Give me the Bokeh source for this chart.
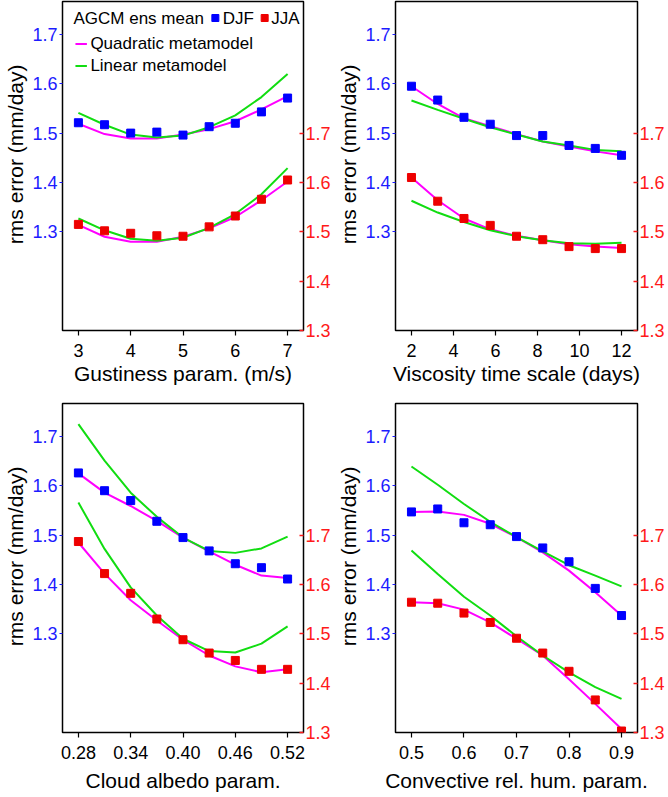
from bokeh.plotting import figure
from bokeh.models import Range1d, LinearAxis, FixedTicker, Label, NumeralTickFormatter
from bokeh.layouts import column, row
from bokeh.embed import file_html
from bokeh.resources import INLINE

FONT = "Liberation Sans"
BLUE = "#0000ff"
RED = "#ee0000"
MAGENTA = "#ff00ff"
GREEN = "#11dd11"
BLUE_TXT = "#1c1cff"
RED_TXT = "#ff1a1a"

# ---------------- data ----------------
y_ticks = [1.3, 1.4, 1.5, 1.6, 1.7]

gust_x = [3, 3.5, 4, 4.5, 5, 5.5, 6, 6.5, 7]
gust_djf = [1.521, 1.517, 1.500, 1.502, 1.496, 1.513, 1.520, 1.543, 1.571]
gust_djf_quad = [1.519, 1.498, 1.489, 1.489, 1.497, 1.508, 1.524, 1.548, 1.575]
gust_djf_lin = [1.541, 1.517, 1.497, 1.491, 1.495, 1.512, 1.536, 1.573, 1.620]
gust_jja = [1.515, 1.502, 1.497, 1.492, 1.491, 1.510, 1.532, 1.566, 1.605]
gust_jja_quad = [1.514, 1.490, 1.480, 1.480, 1.490, 1.507, 1.530, 1.564, 1.602]
gust_jja_lin = [1.527, 1.503, 1.486, 1.482, 1.488, 1.508, 1.536, 1.576, 1.629]
gust_ticks = [3, 4, 5, 6, 7]

visc_x = [2, 3.25, 4.5, 5.75, 7, 8.25, 9.5, 10.75, 12]
visc_djf = [1.595, 1.567, 1.532, 1.518, 1.495, 1.495, 1.475, 1.469, 1.455]
visc_djf_quad = [1.595, 1.559, 1.530, 1.514, 1.498, 1.483, 1.473, 1.463, 1.455]
visc_djf_lin = [1.566, 1.547, 1.529, 1.512, 1.497, 1.483, 1.475, 1.466, 1.463]
visc_jja = [1.610, 1.562, 1.527, 1.513, 1.491, 1.484, 1.470, 1.466, 1.466]
visc_jja_quad = [1.610, 1.564, 1.527, 1.505, 1.492, 1.483, 1.475, 1.470, 1.467]
visc_jja_lin = [1.563, 1.539, 1.520, 1.503, 1.491, 1.483, 1.477, 1.476, 1.478]
visc_ticks = [2, 4, 6, 8, 10, 12]

cloud_x = [0.28, 0.31, 0.34, 0.37, 0.40, 0.43, 0.46, 0.49, 0.52]
cloud_djf = [1.626, 1.590, 1.570, 1.528, 1.495, 1.468, 1.442, 1.434, 1.411]
cloud_djf_quad = [1.625, 1.586, 1.559, 1.529, 1.495, 1.467, 1.440, 1.418, 1.413]
cloud_djf_lin = [1.725, 1.651, 1.586, 1.537, 1.495, 1.468, 1.464, 1.473, 1.497]
cloud_jja = [1.687, 1.622, 1.582, 1.530, 1.488, 1.461, 1.446, 1.428, 1.428]
cloud_jja_quad = [1.685, 1.622, 1.568, 1.527, 1.488, 1.456, 1.434, 1.422, 1.428]
cloud_jja_lin = [1.766, 1.672, 1.594, 1.537, 1.490, 1.465, 1.462, 1.480, 1.515]
cloud_ticks = [0.28, 0.34, 0.40, 0.46, 0.52]

conv_x = [0.5, 0.55, 0.6, 0.65, 0.7, 0.75, 0.8, 0.85, 0.9]
conv_djf = [1.547, 1.553, 1.525, 1.521, 1.497, 1.474, 1.446, 1.392, 1.337]
conv_djf_quad = [1.547, 1.548, 1.541, 1.523, 1.496, 1.465, 1.428, 1.384, 1.337]
conv_djf_lin = [1.639, 1.602, 1.563, 1.527, 1.496, 1.467, 1.439, 1.418, 1.396]
conv_jja = [1.564, 1.562, 1.542, 1.523, 1.491, 1.461, 1.424, 1.366, 1.303]
conv_jja_quad = [1.564, 1.562, 1.549, 1.523, 1.490, 1.456, 1.408, 1.358, 1.307]
conv_jja_lin = [1.669, 1.621, 1.575, 1.537, 1.495, 1.456, 1.422, 1.392, 1.368]
conv_ticks = [0.5, 0.6, 0.7, 0.8, 0.9]

Y_LABEL = "\u00a0" * 4 + "rms error (mm/day)"


def make_panel(x, djf, djf_q, djf_l, jja, jja_q, jja_l, xlabel, xticks, fmt,
               W, H, L, R, T, B, xstand):
    pad = 0.076 * (max(x) - min(x))
    p = figure(width=W, height=H, x_range=Range1d(min(x) - pad, max(x) + pad),
               y_range=Range1d(1.1, 1.7667), output_backend="svg",
               toolbar_location=None, tools="",
               min_border_left=L, min_border_right=R,
               min_border_top=T, min_border_bottom=B)
    p.extra_y_ranges = {"jja": Range1d(1.3, 1.9667)}
    raxis = LinearAxis(y_range_name="jja")
    p.add_layout(raxis, "right")
    p.xgrid.visible = False
    p.ygrid.visible = False
    p.outline_line_color = "black"
    p.outline_line_width = 1.5
    p.outline_line_alpha = 1.0
    p.background_fill_color = "white"
    p.border_fill_color = "white"

    for ax in [p.below[0], p.left[0], raxis]:
        ax.axis_line_color = None
        ax.minor_tick_line_color = None
        ax.major_label_text_font = FONT
        ax.major_label_text_font_size = "18px"
        ax.axis_label_text_font = FONT
        ax.axis_label_text_font_size = "21px"
        ax.axis_label_text_font_style = "normal"
        ax.axis_label_text_color = "black"

    xa = p.below[0]
    xa.ticker = FixedTicker(ticks=xticks)
    if fmt:
        xa.formatter = NumeralTickFormatter(format=fmt)
    xa.major_tick_out = 5
    xa.major_tick_in = 0
    xa.major_tick_line_color = "black"
    xa.major_tick_line_width = 1.2
    xa.major_label_standoff = 8
    xa.major_label_text_color = "black"
    xa.axis_label = xlabel
    xa.axis_label_standoff = xstand

    ya = p.left[0]
    ya.ticker = FixedTicker(ticks=y_ticks)
    ya.major_tick_out = 3
    ya.major_tick_in = 0
    ya.major_tick_line_color = BLUE_TXT
    ya.major_tick_line_width = 1.2
    ya.major_label_standoff = 2
    ya.major_label_text_color = BLUE_TXT
    ya.axis_label = Y_LABEL
    ya.axis_label_standoff = 2

    raxis.ticker = FixedTicker(ticks=y_ticks)
    raxis.major_tick_out = 0
    raxis.major_tick_in = 4
    raxis.major_tick_line_color = RED_TXT
    raxis.major_tick_line_width = 1.5
    raxis.major_label_standoff = 2
    raxis.major_label_text_color = RED_TXT

    p.line(x, djf_q, line_color=MAGENTA, line_width=2)
    p.line(x, djf_l, line_color=GREEN, line_width=2)
    p.line(x, jja_q, line_color=MAGENTA, line_width=2, y_range_name="jja")
    p.line(x, jja_l, line_color=GREEN, line_width=2, y_range_name="jja")
    p.scatter(x, djf, marker="square", size=8, color=BLUE)
    p.scatter(x, jja, marker="square", size=8, color=RED, y_range_name="jja")
    return p


# layout sizes (page has no body margin in Bokeh's template)
W1, W2 = 333, 335
H1, H2 = 396, 401
L1, R1, L2, R2 = 62, 29, 62, 31
T1, B1, T2, B2 = 1, 66, 7, 65

p1 = make_panel(gust_x, gust_djf, gust_djf_quad, gust_djf_lin, gust_jja, gust_jja_quad,
                gust_jja_lin, "Gustiness param. (m/s)", gust_ticks, None,
                W1, H1, L1, R1, T1, B1, 2)
p2 = make_panel(visc_x, visc_djf, visc_djf_quad, visc_djf_lin, visc_jja, visc_jja_quad,
                visc_jja_lin, "Viscosity time scale (days)", visc_ticks, None,
                W2, H1, L2, R2, T1, B1, 2)
p3 = make_panel(cloud_x, cloud_djf, cloud_djf_quad, cloud_djf_lin, cloud_jja, cloud_jja_quad,
                cloud_jja_lin, "Cloud albedo param.", cloud_ticks, "0.00",
                W1, H2, L1, R1, T2, B2, 7)
p4 = make_panel(conv_x, conv_djf, conv_djf_quad, conv_djf_lin, conv_jja, conv_jja_quad,
                conv_jja_lin, "Convective rel. hum. param.", conv_ticks, "0.0",
                W2, H2, L2, R2, T2, B2, 7)

# ---------------- legend (top-left panel) ----------------
fw = W1 - L1 - R1
fh = H1 - T1 - B1


def at(dx, dy):
    xr, yr = p1.x_range, p1.y_range
    return (xr.start + dx / fw * (xr.end - xr.start),
            yr.end - dy / fh * (yr.end - yr.start))


def leg_text(dx, dy, txt):
    x, y = at(dx, dy)
    p1.add_layout(Label(x=x, y=y, text=txt, text_font=FONT, text_font_size="17px",
                        text_baseline="middle", text_align="left", text_color="black"))


leg_text(11, 17, "AGCM ens mean")
bx, by = at(153.5, 16.5)
p1.scatter([bx], [by], marker="square", size=7, color=BLUE)
leg_text(161, 17, "DJF")
rx, ry = at(203, 16.5)
p1.scatter([rx], [ry], marker="square", size=7, color=RED)
leg_text(209.5, 17, "JJA")
for dy, col, txt in [(42, MAGENTA, "Quadratic metamodel"), (64, GREEN, "Linear metamodel")]:
    x0, y0 = at(13, dy + 0.5)
    x1, y1 = at(24.5, dy + 0.5)
    p1.segment(x0=[x0], y0=[y0], x1=[x1], y1=[y1], line_color=col, line_width=2)
    leg_text(28, dy, txt)

layout = column(row(p1, p2), row(p3, p4))
open("out.html", "w").write(file_html(layout, INLINE))
